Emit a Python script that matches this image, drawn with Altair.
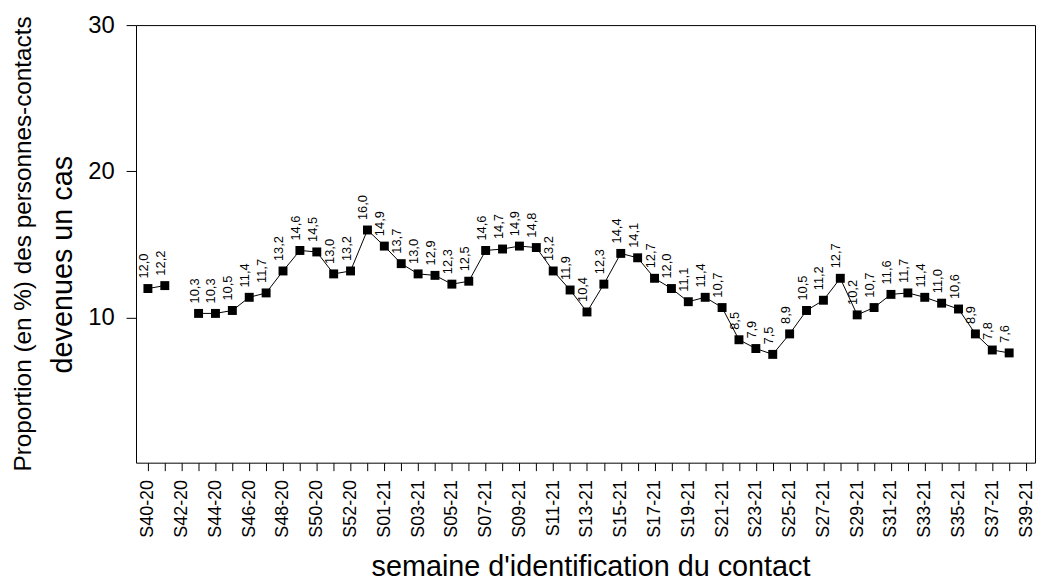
import altair as alt
import pandas as pd

weeks = [
    "S40-20", "S41-20", "S42-20", "S43-20", "S44-20", "S45-20", "S46-20", "S47-20",
    "S48-20", "S49-20", "S50-20", "S51-20", "S52-20", "S53-20",
    "S01-21", "S02-21", "S03-21", "S04-21", "S05-21", "S06-21", "S07-21", "S08-21",
    "S09-21", "S10-21", "S11-21", "S12-21", "S13-21", "S14-21", "S15-21", "S16-21",
    "S17-21", "S18-21", "S19-21", "S20-21", "S21-21", "S22-21", "S23-21", "S24-21",
    "S25-21", "S26-21", "S27-21", "S28-21", "S29-21", "S30-21", "S31-21", "S32-21",
    "S33-21", "S34-21", "S35-21", "S36-21", "S37-21", "S38-21", "S39-21",
]
values = [
    12.0, 12.2, None, 10.3, 10.3, 10.5, 11.4, 11.7,
    13.2, 14.6, 14.5, 13.0, 13.2, 16.0,
    14.9, 13.7, 13.0, 12.9, 12.3, 12.5, 14.6, 14.7,
    14.9, 14.8, 13.2, 11.9, 10.4, 12.3, 14.4, 14.1,
    12.7, 12.0, 11.1, 11.4, 10.7, 8.5, 7.9, 7.5,
    8.9, 10.5, 11.2, 12.7, 10.2, 10.7, 11.6, 11.7,
    11.4, 11.0, 10.6, 8.9, 7.8, 7.6, None,
]
y_ticks = [10, 20, 30]
y_title_1 = "Proportion (en %) des personnes-contacts"
y_title_2 = "devenues un cas"
x_title = "semaine d'identification du contact"

rows = []
seg = 0
for i, (w, v) in enumerate(zip(weeks, values)):
    if v is None:
        seg += 1
        continue
    rows.append(dict(idx=i, week=w, value=v, seg=seg,
                     label=f"{v:.1f}".replace(".", ",")))
df = pd.DataFrame(rows)

arr = "[" + ",".join(f"'{w}'" for w in weeks) + "]"
label_expr = f"datum.value % 2 == 0 ? {arr}[datum.value] : ''"

FONT = "Liberation Sans"

x = alt.X(
    "idx:Q",
    scale=alt.Scale(domain=[-0.705, 52.53], nice=False, zero=False),
    axis=alt.Axis(
        values=list(range(len(weeks))),
        labelExpr=label_expr,
        labelAngle=270,
        labelAlign="right",
        labelBaseline="middle",
        labelFontSize=18,
        labelPadding=9,
        labelFont=FONT,
        labelColor="black",
        tickSize=8,
        tickColor="black",
        domain=False,
        grid=False,
        labelOverlap=False,
        labelBound=False,
        title=x_title,
        titleFont=FONT,
        titleFontSize=29,
        titleFontWeight="normal",
        titleColor="black",
        titleX=458,
        titleY=114,
        titleAlign="center",
        titleBaseline="alphabetic",
    ),
)
y = alt.Y(
    "value:Q",
    scale=alt.Scale(domain=[0.1, 30], nice=False, zero=False),
    axis=alt.Axis(
        values=y_ticks,
        labelFontSize=24,
        labelFont=FONT,
        labelColor="black",
        labelPadding=12,
        tickSize=10,
        tickColor="black",
        domain=False,
        grid=False,
        title=y_title_2,
        titleFont=FONT,
        titleFontSize=29,
        titleFontWeight="normal",
        titleColor="black",
        titleAngle=270,
        titleAlign="center",
        titleBaseline="alphabetic",
        titleX=-65,
        titleY=241,
    ),
)

base = alt.Chart(df)
line = base.mark_line(color="black", strokeWidth=1).encode(x=x, y=y, detail="seg:N")
pts = base.mark_point(shape="square", filled=True, color="black", opacity=1, size=81).encode(x=x, y=y)
txt = base.mark_text(angle=270, align="left", baseline="alphabetic", dx=10,
                     fontSize=13, font=FONT, color="black").encode(x=x, y=y, text="label:N")

chart = (
    alt.layer(line, pts, txt)
    .properties(
        width=906,
        height=441,
        autosize=alt.AutoSizeParams(type="none"),
        padding={"left": 129, "top": 15, "right": 1, "bottom": 117},
        title=alt.TitleParams(
            text=y_title_1,
            orient="left",
            anchor="middle",
            frame="group",
            font=FONT,
            fontSize=24.5,
            fontWeight="normal",
            color="black",
            offset=12,
        ),
    )
    .configure_view(stroke="black", strokeWidth=1)
)

chart.save("out.html", embed_options={"renderer": "svg", "actions": False})
